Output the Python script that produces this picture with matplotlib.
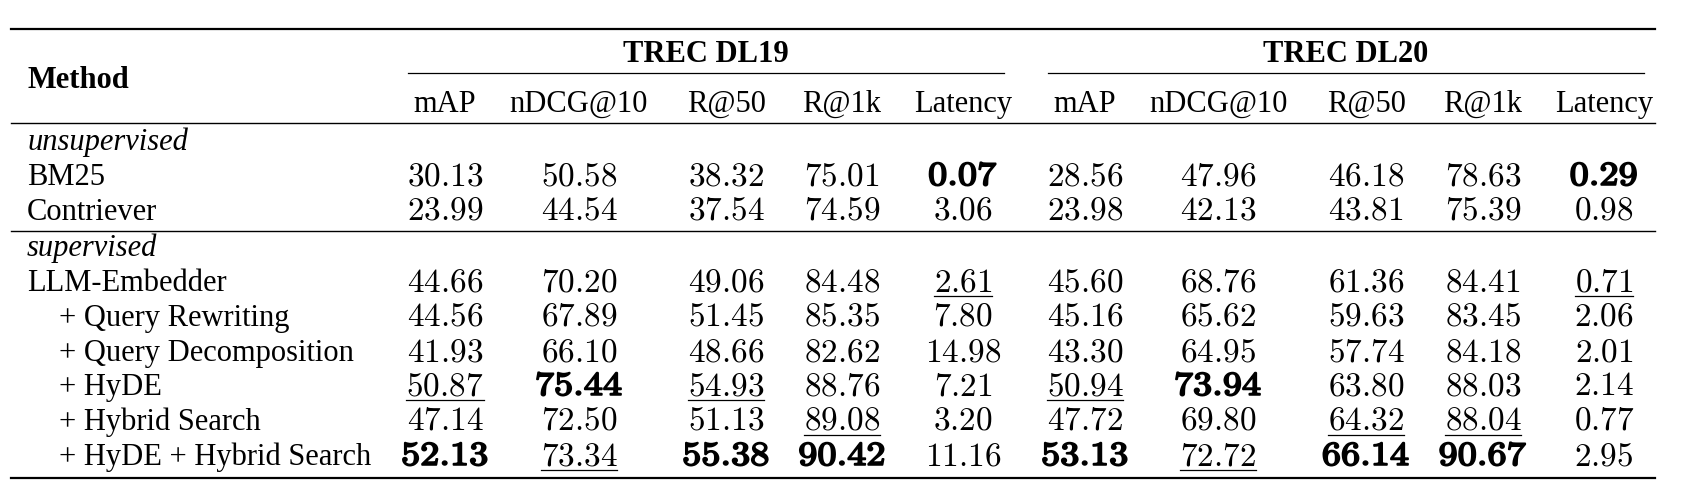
import numpy as np
import matplotlib.pyplot as plt
import matplotlib.patheffects as pe
from matplotlib.transforms import Affine2D

plt.rcParams['mathtext.fontset'] = 'cm'

# table data
groups = ['TREC DL19', 'TREC DL20']
metrics = ['mAP', 'nDCG@10', 'R@50', 'R@1k', 'Latency']
sections = ['unsupervised', 'supervised']
methods_unsup = ['BM25', 'Contriever']
methods_sup = ['LLM-Embedder', '+ Query Rewriting', '+ Query Decomposition',
               '+ HyDE', '+ Hybrid Search', '+ HyDE + Hybrid Search']

dl19 = [
    [30.13, 50.58, 38.32, 75.01, 0.07],
    [23.99, 44.54, 37.54, 74.59, 3.06],
    [44.66, 70.20, 49.06, 84.48, 2.61],
    [44.56, 67.89, 51.45, 85.35, 7.80],
    [41.93, 66.10, 48.66, 82.62, 14.98],
    [50.87, 75.44, 54.93, 88.76, 7.21],
    [47.14, 72.50, 51.13, 89.08, 3.20],
    [52.13, 73.34, 55.38, 90.42, 11.16],
]
dl20 = [
    [28.56, 47.96, 46.18, 78.63, 0.29],
    [23.98, 42.13, 43.81, 75.39, 0.98],
    [45.60, 68.76, 61.36, 84.41, 0.71],
    [45.16, 65.62, 59.63, 83.45, 2.06],
    [43.30, 64.95, 57.74, 84.18, 2.01],
    [50.94, 73.94, 63.80, 88.03, 2.14],
    [47.72, 69.80, 64.32, 88.04, 0.77],
    [53.13, 72.72, 66.14, 90.67, 2.95],
]

values = np.hstack([np.array(dl19), np.array(dl20)])
lower_better = [False, False, False, False, True] * 2


class WideBold(pe.AbstractPathEffect):
    # stretch glyphs sideways around cx (display px) and thicken them
    def __init__(self, cx, sx=1.15, lw=1.3):
        super().__init__()
        self.cx, self.sx, self.lw = cx, sx, lw

    def draw_path(self, renderer, gc, tpath, affine, rgbFace=None):
        aff = affine + Affine2D().translate(-self.cx, 0).scale(self.sx, 1).translate(self.cx, 0)
        gc0 = renderer.new_gc()
        gc0.copy_properties(gc)
        gc0.set_linewidth(self.lw)
        gc0.set_foreground('black')
        renderer.draw_path(gc0, tpath, aff, rgbFace)
        gc0.restore()


W, H = 1693, 495
fig = plt.figure(figsize=(W / 100, H / 100), dpi=100)
ax = fig.add_axes([0, 0, 1, 1])
ax.set_xlim(0, W)
ax.set_ylim(H, 0)
ax.axis('off')

serif = 'Liberation Serif'
tsize = 22
nsize = 24

col_x = [445, 579, 726, 842, 963, 1085, 1218, 1366, 1483, 1604]
x_left = 11
x_right = 1655
x_name = 27
x_indent = 59

# rules
ax.plot([x_left, x_right], [29, 29], color='black', lw=1.6)
ax.plot([x_left, x_right], [123, 123], color='black', lw=1.0)
ax.plot([x_left, x_right], [231, 231], color='black', lw=1.0)
ax.plot([x_left, x_right], [478, 478], color='black', lw=1.6)
for g, (a, b) in enumerate([(408, 1004), (1048, 1644)]):
    ax.plot([a, b], [73, 73], color='black', lw=0.9)
    ax.text((a + b) / 2, 62, groups[g], ha='center', va='baseline',
            family=serif, weight='bold', fontsize=tsize)

ax.text(x_name, 88, 'Method', ha='left', va='baseline', family=serif,
        weight='bold', fontsize=tsize)
for j, x in enumerate(col_x):
    ax.text(x, 112, metrics[j % 5], ha='center', va='baseline',
            family=serif, fontsize=tsize)

# section labels
ax.text(x_name, 150, sections[0], ha='left', va='baseline', family=serif,
        style='italic', fontsize=tsize)
ax.text(x_name, 256, sections[1], ha='left', va='baseline', family=serif,
        style='italic', fontsize=tsize)

row_names = methods_unsup + methods_sup
row_y = [185, 220, 291, 326, 361, 395, 430, 465]

# best (bold) and second best (underline) per column
best = {}
second = {}
for j in range(values.shape[1]):
    order = np.argsort(values[:, j])
    if not lower_better[j]:
        order = order[::-1]
    best[j] = order[0]
    second[j] = order[1]

underlined = []
for i, name in enumerate(row_names):
    y = row_y[i]
    x0 = x_name if i < 3 else x_indent
    ax.text(x0, y, name, ha='left', va='baseline', family=serif, fontsize=tsize)
    for j, x in enumerate(col_x):
        s = f'{values[i, j]:.2f}'
        if best[j] == i:
            cx = ax.transData.transform((x, y))[0]
            ax.text(x, y, r'$\mathbf{' + s + '}$', ha='center', va='baseline',
                    fontsize=nsize, path_effects=[WideBold(cx)])
        else:
            t = ax.text(x, y, '$' + s + '$', ha='center', va='baseline',
                        fontsize=nsize)
            if second[j] == i:
                underlined.append((t, y))

fig.canvas.draw()
r = fig.canvas.get_renderer()
inv = ax.transData.inverted()
for t, y in underlined:
    bb = t.get_window_extent(renderer=r)
    (xa, _), (xb, _) = inv.transform([[bb.x0, bb.y0], [bb.x1, bb.y1]])
    ax.plot([xa, xb], [y + 5, y + 5], color='black', lw=0.9)

fig.savefig('out.png', dpi=100)
